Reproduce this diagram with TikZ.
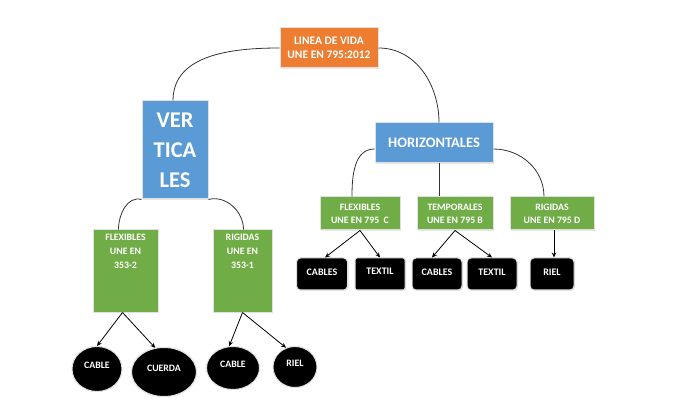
\documentclass[tikz,border=0pt]{standalone}
\usepackage{fontspec}
\setmainfont{Carlito}
\usepackage{xcolor}
\usepackage{tikz}
\usetikzlibrary{shapes.geometric, arrows.meta, shadows}

\definecolor{orangebox}{HTML}{ED7D31}
\definecolor{bluebox}{HTML}{5B9BD5}
\definecolor{greenbox}{HTML}{70AD47}

\begin{document}
\begin{tikzpicture}[
    x=1pt, y=-1pt,
    box/.style={rectangle, draw=black!12, line width=1pt, text=white, align=center, inner sep=0pt,
        font=\bfseries, drop shadow={shadow xshift=1pt, shadow yshift=-1pt, opacity=0.2}},
    titlebox/.style={box, fill=orangebox, minimum width=98pt, minimum height=40pt, font=\bfseries\fontsize{11.5}{14}\selectfont},
    bluebox/.style={box, fill=bluebox},
    greenbox/.style={box, fill=greenbox, font=\bfseries\fontsize{9.8}{13}\selectfont},
    blackbox/.style={box, fill=black, rounded corners=4pt, minimum height=32pt, font=\bfseries\fontsize{10}{12}\selectfont},
    blackoval/.style={ellipse, draw=black!12, line width=1pt, fill=black, text=white, inner sep=0pt,
        font=\bfseries\fontsize{9.8}{12}\selectfont},
    link/.style={draw=black!80, line width=0.8pt},
    arrow/.style={-{Stealth[length=5pt, width=4.5pt]}, line width=0.8pt}
]
\useasboundingbox (0,0) rectangle (673,417);

% top
\node[titlebox] (title) at (329,48) {LINEA DE VIDA\\UNE EN 795:2012};

% second level
\node[bluebox, minimum width=66pt, minimum height=98pt, font=\bfseries\fontsize{22.5}{30}\selectfont] (vert) at (175,150) {VER\\TICA\\LES};
\node[bluebox, minimum width=118pt, minimum height=40pt, font=\bfseries\fontsize{14.5}{17}\selectfont] (horiz) at (434,143) {HORIZONTALES};

% verticales
\node[greenbox, minimum width=65pt, minimum height=82pt, font=\bfseries\fontsize{9.8}{14}\selectfont] (flexL) at (125.5,271)
    {\parbox[c][74pt][t]{60pt}{\centering FLEXIBLES\\UNE EN\\353-2}};
\node[greenbox, minimum width=59pt, minimum height=82pt, font=\bfseries\fontsize{9.8}{14}\selectfont] (rigL) at (242.5,271)
    {\parbox[c][74pt][t]{56pt}{\centering RIGIDAS\\UNE EN\\353-1}};

% horizontales
\node[greenbox, minimum width=80pt, minimum height=33pt] (flexC) at (360,213.5) {FLEXIBLES\\UNE EN 795~~C};
\node[greenbox, minimum width=76pt, minimum height=33pt] (temp) at (455,213.5) {TEMPORALES\\UNE EN 795 B};
\node[greenbox, minimum width=84pt, minimum height=33pt] (rigD) at (552,213.5) {RIGIDAS\\UNE EN 795 D};

% black boxes
\node[blackbox, minimum width=51pt] (cablesA) at (322,274) {\raisebox{3pt}{CABLES}};
\node[blackbox, minimum width=50pt, rounded corners=2pt] (textilA) at (380,274) {\raisebox{5pt}{TEXTIL}};
\node[blackbox, minimum width=50pt] (cablesB) at (437,274) {\raisebox{3pt}{CABLES}};
\node[blackbox, minimum width=50pt] (textilB) at (492,274) {\raisebox{3pt}{TEXTIL}};
\node[blackbox, minimum width=44pt] (rielA) at (552,274) {\raisebox{3pt}{RIEL}};

% ovals
\node[blackoval, minimum width=50pt, minimum height=45pt] (cableA) at (97,369) {\raisebox{8pt}{CABLE}};
\node[blackoval, minimum width=65pt, minimum height=49pt] (cuerda) at (164,372) {\raisebox{7pt}{CUERDA}};
\node[blackoval, minimum width=53pt, minimum height=43pt] (cableB) at (233,368) {\raisebox{8pt}{CABLE}};
\node[blackoval, minimum width=44pt, minimum height=41pt] (rielB) at (295,367) {\raisebox{8pt}{RIEL}};

% links
\draw[link] (title.west) to[out=180, in=90] ([xshift=-2pt]vert.north);
\draw[link] (title.east) to[out=0, in=90] ([xshift=5pt]horiz.north);
\draw[link] (vert.south west) to[out=165, in=90] ([xshift=-7pt]flexL.north);
\draw[link] (vert.south east) to[out=15, in=90] ([xshift=1pt]rigL.north);
\draw[link] ([yshift=-6pt]horiz.west) to[out=180, in=90] ([xshift=-8pt]flexC.north);
\draw[link] ([xshift=5pt]horiz.south) -- ([xshift=5pt]horiz.south |- temp.north);
\draw[link] ([yshift=-6pt]horiz.east) to[out=0, in=90] ([xshift=-8pt]rigD.north);

% arrows
\draw[arrow] (flexC.south) -- ([xshift=3pt]cablesA.north);
\draw[arrow] (flexC.south) -- (textilA.north);
\draw[arrow] (temp.south) -- ([xshift=-5pt]cablesB.north);
\draw[arrow] (temp.south) -- (textilB.north);
\draw[arrow] ([xshift=2pt]rigD.south) -- ([xshift=2pt]rielA.north);
\draw[arrow] ([xshift=-3pt]flexL.south) -- (cableA.north);
\draw[arrow] ([xshift=-3pt]flexL.south) -- (cuerda.110);
\draw[arrow] (rigL.south) -- (cableB.100);
\draw[arrow] (rigL.south) -- (rielB.115);
\end{tikzpicture}
\end{document}
